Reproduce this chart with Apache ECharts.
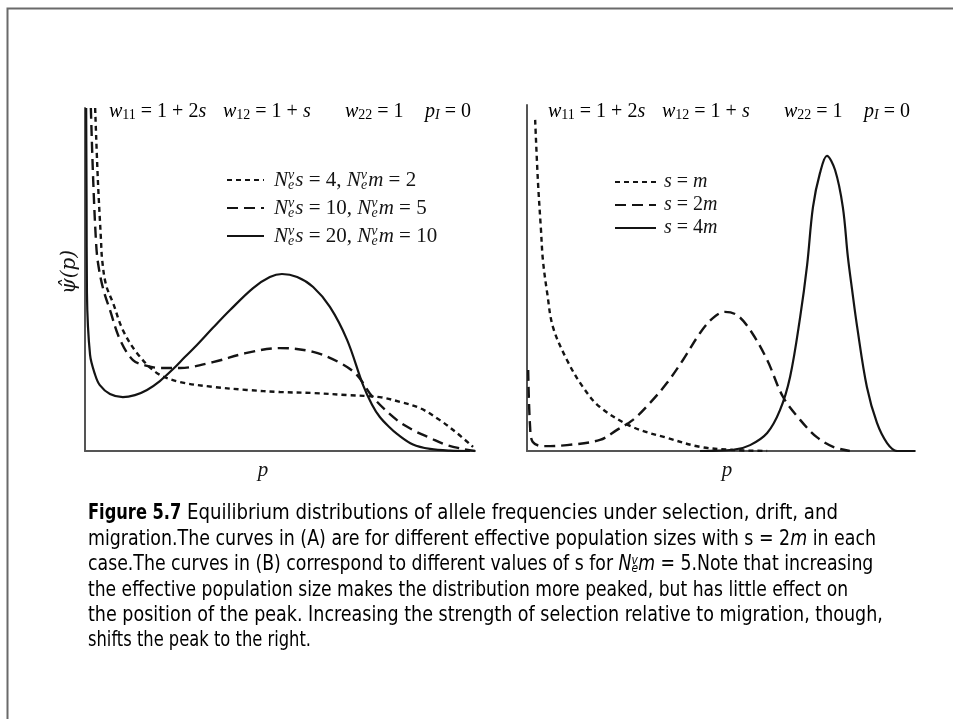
<!DOCTYPE html>
<html>
<head>
<meta charset="utf-8">
<style>
  html, body { margin: 0; padding: 0; background: #fff; }
  #chart { width: 954px; height: 719px; }
</style>
<script src="https://cdn.jsdelivr.net/npm/echarts@6/dist/echarts.min.js"></script>
</head>
<body>
<div id="chart"></div>
<script>
// values, p on 0..1, psi-hat scaled 0..100 of the axis height
// panel A
var pA_dot = [0.026, 0.033, 0.041, 0.044, 0.054, 0.072, 0.097, 0.133, 0.185, 0.244, 0.328, 0.415, 0.5, 0.585, 0.672, 0.756, 0.808, 0.859, 0.91, 0.954, 0.995]
var yA_dot = [100, 79, 61.5, 55.7, 48.4, 43.1, 35.3, 28.6, 22.7, 20.1, 18.7, 17.8, 17.2, 16.9, 16.3, 15.7, 14.3, 12.5, 9, 5.2, 1.2]
var pA_dash = [0.015, 0.021, 0.028, 0.033, 0.046, 0.064, 0.09, 0.123, 0.159, 0.192, 0.244, 0.328, 0.415, 0.5, 0.585, 0.654, 0.697, 0.738, 0.8, 0.841, 0.885, 0.928, 0.969, 1.0]
var yA_dash = [100, 79, 61.5, 55.1, 47.5, 41.1, 32.4, 26.5, 24.8, 24.2, 24.2, 25.9, 28.6, 30, 28.9, 25.7, 22.2, 15.7, 9, 6.1, 3.8, 1.7, 0.6, 0]
var pA_solid = [0.003, 0.004, 0.005, 0.013, 0.026, 0.038, 0.064, 0.097, 0.128, 0.159, 0.192, 0.226, 0.256, 0.287, 0.328, 0.372, 0.431, 0.474, 0.505, 0.544, 0.585, 0.628, 0.672, 0.713, 0.736, 0.756, 0.78, 0.8, 0.841, 0.885, 0.936, 0.987]
var yA_solid = [100, 73.2, 46.1, 28, 22.2, 19.2, 16.6, 15.7, 16.3, 17.8, 20.4, 23.9, 27.4, 30.9, 35.9, 41.1, 47.5, 50.7, 51.6, 50.7, 47.8, 42, 32.4, 19.2, 13.5, 9.9, 7, 5, 1.9, 0.6, 0.1, 0]
// panel B
var pB_dot = [0.021, 0.028, 0.036, 0.041, 0.052, 0.067, 0.103, 0.144, 0.188, 0.273, 0.361, 0.446, 0.531, 0.619]
var yB_dot = [95.7, 78.3, 63.9, 55.2, 45.7, 35.8, 26.3, 18.5, 12.7, 6.9, 3.8, 1.2, 0.3, 0]
var pB_dash = [0.003, 0.008, 0.015, 0.041, 0.103, 0.188, 0.232, 0.273, 0.317, 0.361, 0.402, 0.446, 0.479, 0.51, 0.541, 0.575, 0.619, 0.66, 0.704, 0.747, 0.789, 0.832]
var yB_dash = [23.4, 6.9, 2.6, 1.4, 1.7, 3.2, 6.1, 9, 13.9, 19.7, 26.3, 34.1, 38.4, 40.2, 39.3, 35, 26.3, 15.6, 9, 4, 1.2, 0]
var pB_solid = [0.446, 0.531, 0.575, 0.619, 0.652, 0.678, 0.704, 0.722, 0.737, 0.755, 0.773, 0.794, 0.814, 0.827, 0.838, 0.851, 0.876, 0.902, 0.928, 0.954, 1.0]
var yB_solid = [0, 0.3, 1.7, 5.2, 11.8, 21.4, 38.7, 53.8, 70.5, 80.3, 85.3, 81.2, 70.5, 56.1, 46.5, 35.8, 18.5, 8.1, 2.3, 0, 0]

var legendA = {
  A1: '{i|N}{sup|v}{sub|e}{i|s}{n| = 4, }{i|N}{sup|v}{sub|e}{i|m}{n| = 2}',
  A2: '{i|N}{sup|v}{sub|e}{i|s}{n| = 10, }{i|N}{sup|v}{sub|e}{i|m}{n| = 5}',
  A3: '{i|N}{sup|v}{sub|e}{i|s}{n| = 20, }{i|N}{sup|v}{sub|e}{i|m}{n| = 10}'
}
var legendB = {
  B1: '{i|s}{n| = }{i|m}',
  B2: '{i|s}{n| = 2}{i|m}',
  B3: '{i|s}{n| = 4}{i|m}'
}
var formula = ['{i|w}{s|11}{n| = 1 + 2}{i|s}', '{i|w}{s|12}{n| = 1 + }{i|s}', '{i|w}{s|22}{n| = 1}', '{i|p}{si|I}{n| = 0}']
var formulaX = [109, 223, 345, 425]

var captionHead = 'Figure 5.7'
var caption = [
  '{t|Equilibrium distributions of allele frequencies under selection, drift, and}',
  '{t|migration.The curves in (A) are for different effective population sizes with s = 2}{ti|m}{t| in each}',
  '{t|case.The curves in (B) correspond to different values of s for }{ti|N}{tsup|v}{tsub|e}{ti|m}{t| = 5.Note that increasing}',
  '{t|the effective population size makes the distribution more peaked, but has little effect on}',
  '{t|the position of the peak. Increasing the strength of selection relative to migration, though,}',
  '{t|shifts the peak to the right.}'
]
var captionX = [187, 88, 88, 88, 88, 88]
var captionScale = [0.96, 0.922, 0.917, 0.908, 0.928, 0.864]

function zip(xs, ys) {
  return xs.map(function (x, i) { return [x, ys[i]] })
}

var serif = 'Liberation Serif'
var ink = '#141414'
function mathStyles(size, small) {
  return {
    i: { fontFamily: serif, fontStyle: 'italic', fontSize: size, color: ink },
    n: { fontFamily: serif, fontSize: size, color: ink },
    s: { fontFamily: serif, fontSize: 14, color: ink, verticalAlign: 'bottom', lineHeight: 14, padding: [9, 0, 0, 0] },
    si: { fontFamily: serif, fontStyle: 'italic', fontSize: 14, color: ink, verticalAlign: 'bottom', lineHeight: 14, padding: [9, 0, 0, 0] },
    sup: { fontFamily: serif, fontStyle: 'italic', fontSize: small, color: ink, verticalAlign: 'top', lineHeight: small, width: 0.1 },
    sub: { fontFamily: serif, fontStyle: 'italic', fontSize: small, color: ink, verticalAlign: 'bottom', lineHeight: small, padding: [0, 1, 0, 0] }
  }
}
var mathRich = mathStyles(20, 13)
var legendRich = mathStyles(21, 14)
var sans = '"Liberation Sans Narrow", "DejaVu Sans Condensed", sans-serif'
var capRich = {
  b: { fontFamily: sans, fontWeight: 'bold', fontSize: 21, color: ink },
  t: { fontFamily: sans, fontSize: 21, color: ink },
  ti: { fontFamily: sans, fontStyle: 'italic', fontSize: 21, color: ink },
  tsup: { fontFamily: sans, fontStyle: 'italic', fontSize: 13, color: ink, verticalAlign: 'top', lineHeight: 13, width: 0.1 },
  tsub: { fontFamily: sans, fontStyle: 'italic', fontSize: 13, color: ink, verticalAlign: 'bottom', lineHeight: 13 }
}

function axisSet(idx) {
  return {
    gridIndex: idx, type: 'value', min: 0, max: 1,
    axisLine: { show: true, lineStyle: { color: '#555', width: 2 } },
    axisTick: { show: false }, axisLabel: { show: false }, splitLine: { show: false }
  }
}
function yAxisSet(idx) {
  var a = axisSet(idx)
  a.max = 100
  return a
}

var lineTypes = { dot: [5, 4], dash: [11, 6], solid: 'solid' }
function mkSeries(name, idx, data, kind) {
  return {
    name: name, type: 'line', xAxisIndex: idx, yAxisIndex: idx,
    data: data, symbol: 'none', smooth: 0.35, silent: true,
    itemStyle: { color: ink },
    lineStyle: { color: ink, width: kind === 'solid' ? 2.2 : 2.4, type: lineTypes[kind] }
  }
}

var graphics = [
  { type: 'polyline', shape: { points: [[953, 8.5], [7.5, 8.5], [7.5, 719]] }, style: { stroke: '#6a6a6a', lineWidth: 2, fill: null } },
  { type: 'text', x: 70, y: 272, rotation: Math.PI / 2, style: { text: 'ψ\u0302(p)', font: 'italic 20px "DejaVu Serif"', fill: ink, textAlign: 'center', textVerticalAlign: 'middle' } },
  { type: 'text', x: 263, y: 470, style: { text: 'p', font: 'italic 21px ' + serif, fill: ink, textAlign: 'center', textVerticalAlign: 'middle' } },
  { type: 'text', x: 727, y: 470, style: { text: 'p', font: 'italic 21px ' + serif, fill: ink, textAlign: 'center', textVerticalAlign: 'middle' } },
  { type: 'text', x: 88, y: 514, scaleX: 0.86, style: { text: '{b|' + captionHead + '}', rich: capRich, textVerticalAlign: 'middle' } }
]
formula.forEach(function (f, i) {
  [0, 439].forEach(function (dx) {
    graphics.push({ type: 'text', x: formulaX[i] + dx, y: 112, style: { text: f, rich: mathRich, textVerticalAlign: 'middle' } })
  })
})
caption.forEach(function (c, i) {
  graphics.push({ type: 'text', x: captionX[i], y: 514 + i * 25.4, scaleX: captionScale[i], style: { text: c, rich: capRich, textVerticalAlign: 'middle' } })
})

var chart = echarts.init(document.getElementById('chart'))
chart.setOption({
  animation: false,
  backgroundColor: '#fff',
  grid: [
    { left: 85, top: 108, width: 390, height: 343 },
    { left: 527, top: 105, width: 388, height: 346 }
  ],
  xAxis: [axisSet(0), axisSet(1)],
  yAxis: [yAxisSet(0), yAxisSet(1)],
  legend: [
    {
      data: ['A1', 'A2', 'A3'], orient: 'vertical', left: 226, top: 168, padding: 0,
      itemWidth: 37, itemHeight: 14, itemGap: 4, selectedMode: false,
      itemStyle: { opacity: 0 },
      formatter: function (n) { return legendA[n] },
      textStyle: { rich: legendRich, padding: [0, 0, 0, 5], lineHeight: 24 }
    },
    {
      data: ['B1', 'B2', 'B3'], orient: 'vertical', left: 614, top: 171, padding: 0,
      itemWidth: 41, itemHeight: 14, itemGap: 1, selectedMode: false,
      itemStyle: { opacity: 0 },
      formatter: function (n) { return legendB[n] },
      textStyle: { rich: mathRich, padding: [0, 0, 0, 3], lineHeight: 22 }
    }
  ],
  series: [
    mkSeries('A1', 0, zip(pA_dot, yA_dot), 'dot'),
    mkSeries('A2', 0, zip(pA_dash, yA_dash), 'dash'),
    mkSeries('A3', 0, zip(pA_solid, yA_solid), 'solid'),
    mkSeries('B1', 1, zip(pB_dot, yB_dot), 'dot'),
    mkSeries('B2', 1, zip(pB_dash, yB_dash), 'dash'),
    mkSeries('B3', 1, zip(pB_solid, yB_solid), 'solid')
  ],
  graphic: graphics
})
</script>
</body>
</html>
